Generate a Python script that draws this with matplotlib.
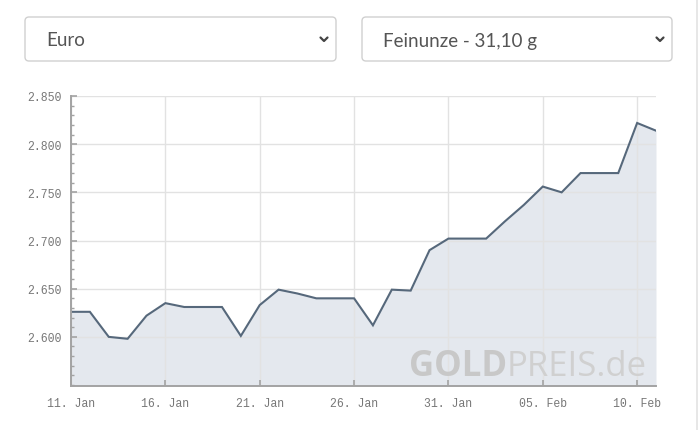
import numpy as np
import pandas as pd
import matplotlib
matplotlib.use('Agg')
import matplotlib.pyplot as plt
from matplotlib.patches import FancyBboxPatch

# Goldpreis in Euro je Feinunze, 11. Jan - 11. Feb
dates = pd.date_range('2025-01-11', '2025-02-11', freq='D')
prices = [2626, 2626, 2600, 2598, 2622, 2635, 2631, 2631, 2631, 2601,
          2633, 2649, 2645, 2640, 2640, 2640, 2612, 2649, 2648, 2690,
          2702, 2702, 2702, 2720, 2737, 2756, 2750, 2770, 2770, 2770,
          2822, 2814]
prices = np.array(prices) / 1000.0

tick_dates = pd.to_datetime(['2025-01-11', '2025-01-16', '2025-01-21', '2025-01-26',
                             '2025-01-31', '2025-02-05', '2025-02-10'])
tick_labels = ['11. Jan', '16. Jan', '21. Jan', '26. Jan', '31. Jan', '05. Feb', '10. Feb']
y_ticks = [2.60, 2.65, 2.70, 2.75, 2.80, 2.85]
y_labels = ['2.600', '2.650', '2.700', '2.750', '2.800', '2.850']

currency = 'Euro'
unit = 'Feinunze - 31,10 g'

W, H = 700, 431
fig = plt.figure(figsize=(W / 100, H / 100), dpi=100)
fig.patch.set_facecolor('white')

# chart
ax = fig.add_axes([71 / W, 1 - 387 / H, (656 - 71) / W, (387 - 97) / H])
ymin = 2.549
ax.fill_between(dates, prices, ymin, color='#e4e8ee', zorder=1, linewidth=0)
ax.plot(dates, prices, color='#56687b', lw=1.5, zorder=4, solid_joinstyle='miter')
ax.set_xlim(dates[0], dates[-1])
ax.set_ylim(ymin, 2.85)

ax.set_xticks(tick_dates)
ax.set_xticklabels(tick_labels)
ax.set_yticks(y_ticks)
ax.set_yticklabels(y_labels)
ax.yaxis.set_minor_locator(matplotlib.ticker.MultipleLocator(0.01))

ax.grid(True, which='major', color='#e2e2e2', lw=1.0)
for gl in ax.get_xgridlines() + ax.get_ygridlines():
    gl.set_zorder(2)

for s in ['top', 'right']:
    ax.spines[s].set_visible(False)
for s in ['left', 'bottom']:
    ax.spines[s].set_color('#a3a3a3')
    ax.spines[s].set_linewidth(1.4)
    ax.spines[s].set_zorder(5)

ax.tick_params(axis='both', which='major', direction='in', length=4, width=1.2,
               color='#a3a3a3', labelcolor='#777777', labelsize=8.3)
ax.tick_params(axis='y', which='minor', direction='in', length=2.5, width=1.0, color='#a3a3a3')
ax.tick_params(axis='x', pad=8)
ax.tick_params(axis='y', pad=6.5)
for lbl in ax.get_xticklabels() + ax.get_yticklabels():
    lbl.set_family('Liberation Mono')

# watermark
ax.text(0.745, 0.07, 'GOLD', transform=ax.transAxes, ha='right', va='center',
        fontsize=25, fontweight='bold', color='#c8c8c8', family='Open Sans', zorder=3)
ax.text(0.745, 0.07, 'PREIS.de', transform=ax.transAxes, ha='left', va='center',
        fontsize=25, color='#d0d0d0', family='Open Sans', zorder=3)

# page elements: select boxes and border
ov = fig.add_axes([0, 0, 1, 1], zorder=-1)
ov.set_xlim(0, W)
ov.set_ylim(H, 0)
ov.axis('off')
for x0, x1, label in [(25, 336, currency), (362, 672, unit)]:
    box = FancyBboxPatch((x0, 18), x1 - x0, 44, boxstyle='round,pad=0,rounding_size=4',
                         facecolor='white', edgecolor='#d0d0d0', lw=1.0)
    ov.add_patch(box)
    ov.text(x0 + 21, 41, label, ha='left', va='center', fontsize=13.5,
            color='#555555', family='Lato')
    cx = x1 - 12
    ov.plot([cx - 3.5, cx, cx + 3.5], [38.5, 42, 38.5], color='#444444', lw=1.6,
            solid_capstyle='round', solid_joinstyle='round')
ov.plot([697, 697], [0, H], color='#e3e3e3', lw=1.2)

fig.savefig('out.png', dpi=100, facecolor='white')
